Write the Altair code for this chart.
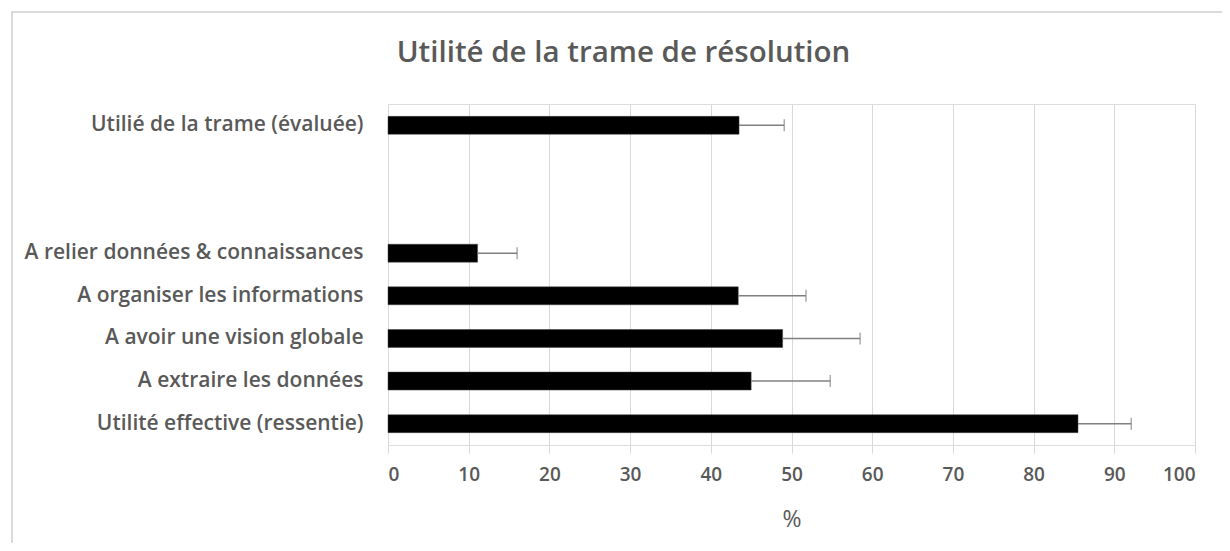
import altair as alt
import pandas as pd

categories = [
    "Utilié de la trame (évaluée)",
    "A relier données & connaissances",
    "A organiser les informations",
    "A avoir une vision globale",
    "A extraire les données",
    "Utilité effective (ressentie)",
]
values = [43.5, 11.1, 43.4, 48.9, 45.0, 85.5]
upper = [49.1, 16.0, 51.8, 58.5, 54.8, 92.1]
x_ticks = [0, 10, 20, 30, 40, 50, 60, 70, 80, 90, 100]

# order of rows on the axis, top to bottom (two empty slots after the first)
row_order = [categories[0], " ", "  "] + categories[1:]

df = pd.DataFrame({"cat": categories, "val": values, "hi": upper})

FONT = "Open Sans"
GREY = "#595959"
W, H = 807, 341

y_enc = alt.Y(
    "cat:N",
    sort=row_order,
    scale=alt.Scale(domain=row_order, paddingInner=0.58, paddingOuter=0.29),
    axis=alt.Axis(
        title=None,
        labelFont=FONT,
        labelFontSize=21,
        labelFontWeight=600,
        labelColor=GREY,
        labelPadding=25,
        ticks=False,
        domain=False,
        grid=False,
        labelLimit=500,
    ),
)

x_scale = alt.Scale(domain=[0, 100], nice=False)
x_axis = alt.Axis(
    title="%",
    titleFont=FONT,
    titleFontSize=23,
    titleFontWeight="normal",
    titleColor=GREY,
    titlePadding=24,
    values=x_ticks,
    labelFont=FONT,
    labelFontSize=19,
    labelFontWeight=600,
    labelColor=GREY,
    labelPadding=12,
    grid=True,
    gridColor="#d9d9d9",
    gridWidth=1,
    domain=False,
    ticks=True,
    tickSize=8,
    tickColor="#d9d9d9",
)

base = alt.Chart(df)

frame = alt.Chart(pd.DataFrame({"f": [0]})).mark_rect(
    fill=None, stroke="#dadada", strokeWidth=2
).encode(
    x=alt.value(-376), x2=alt.value(W + 60),
    y=alt.value(-92), y2=alt.value(H + 200),
)

bars = base.mark_bar(color="black", stroke="#404040", strokeWidth=0.5).encode(
    x=alt.X("val:Q", scale=x_scale, axis=x_axis),
    y=y_enc,
)

err = base.mark_rule(color="#808080", strokeWidth=1.4).encode(
    x=alt.X("val:Q", scale=x_scale),
    x2="hi:Q",
    y=alt.Y("cat:N", sort=row_order),
)

caps = base.mark_tick(color="#808080", thickness=1.4, size=12, orient="vertical").encode(
    x=alt.X("hi:Q", scale=x_scale),
    y=alt.Y("cat:N", sort=row_order),
)

chart = (
    alt.layer(frame, bars, err, caps)
    .properties(
        width=W,
        height=H,
        title=alt.TitleParams(
            "Utilité de la trame de résolution",
            font=FONT,
            fontSize=29.5,
            fontWeight=600,
            color=GREY,
            anchor="middle",
            frame="group",
            baseline="alphabetic",
            dx=-168,
            offset=0,
            dy=80,
        ),
        autosize=alt.AutoSizeParams(type="none"),
        padding={"left": 380, "top": 96, "right": 27, "bottom": 98},
    )
    .configure_view(stroke=None)
    .configure(background="white")
)

chart.save("out.html", embed_options={"renderer": "svg", "actions": False})
